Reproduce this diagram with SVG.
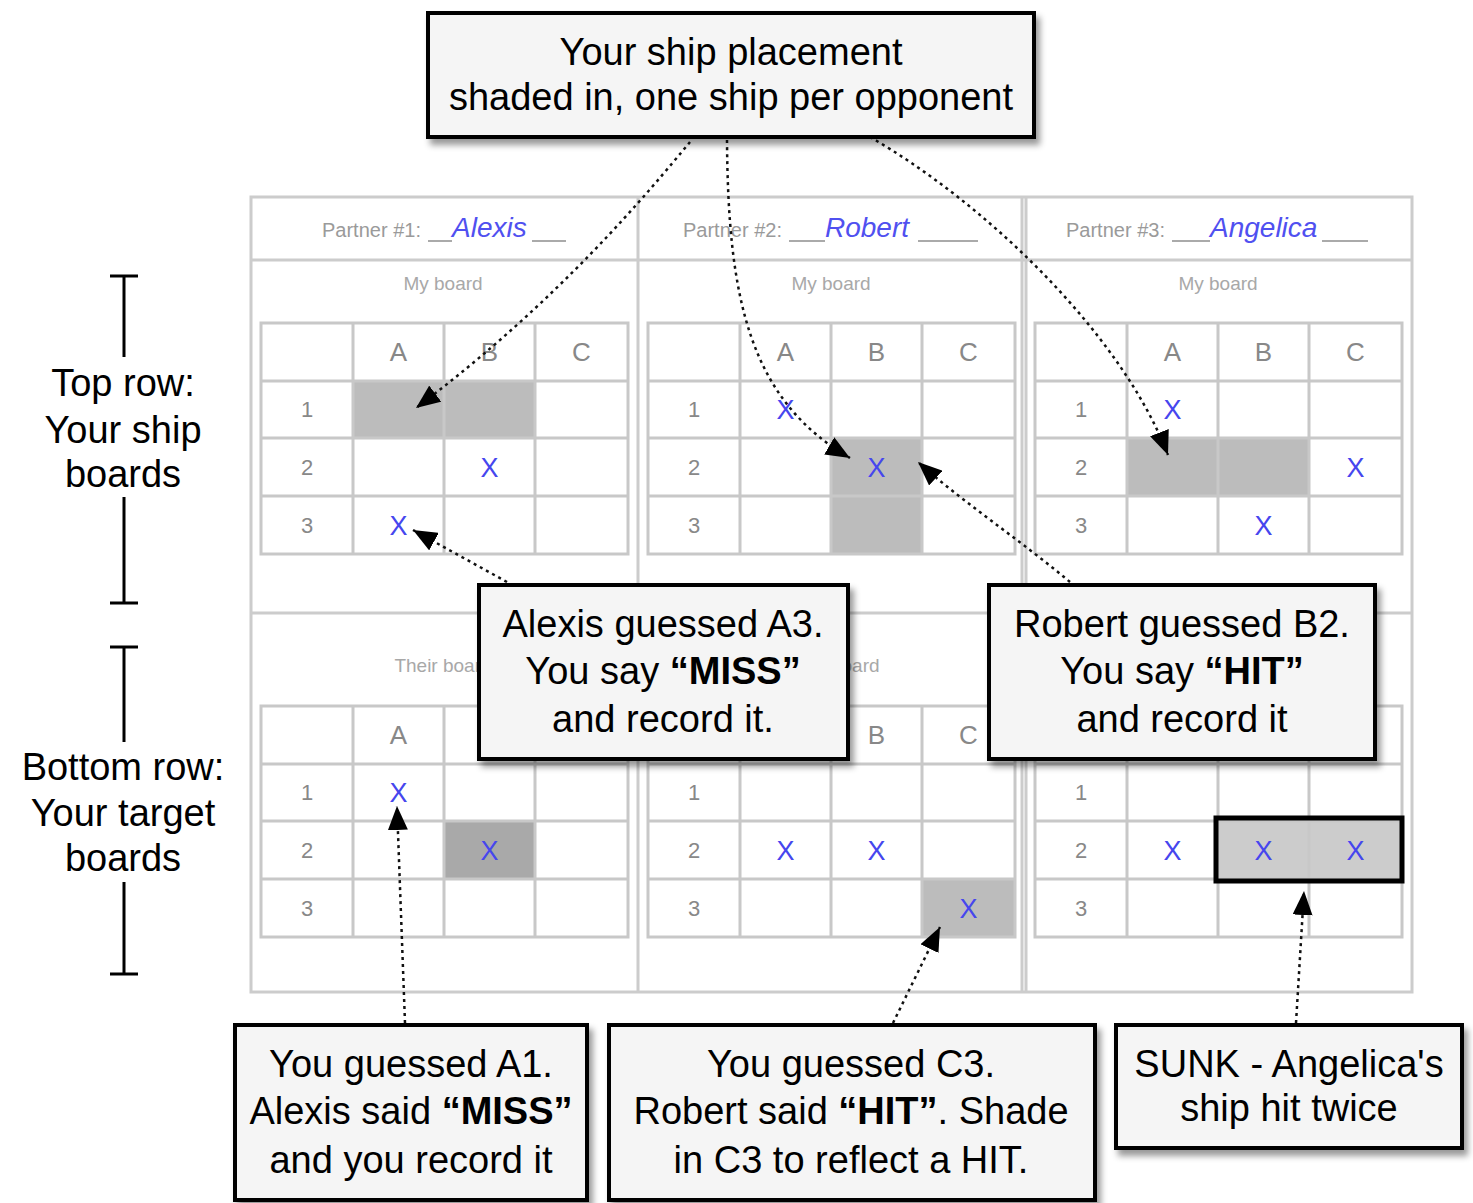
<svg xmlns="http://www.w3.org/2000/svg" xmlns:xlink="http://www.w3.org/1999/xlink" width="1473" height="1203" viewBox="0 0 1473 1203">
<style>
  .frame{fill:none;stroke:#cccccc;stroke-width:3}
  .gl{fill:none;stroke:#c8c8c8;stroke-width:3}
  .hdr{font-family:"Liberation Sans",Arial,sans-serif;font-size:26px;fill:#888;text-anchor:middle}
  .num{font-family:"Liberation Sans",Arial,sans-serif;font-size:22px;fill:#888;text-anchor:middle}
  .x{font-family:"Liberation Sans",Arial,sans-serif;font-size:27px;fill:#4646ee;text-anchor:middle}
  .small{font-family:"Liberation Sans",Arial,sans-serif;font-size:20px;fill:#9a9a9a}
  .sub{font-family:"Liberation Sans",Arial,sans-serif;font-size:19px;fill:#a8a8a8;text-anchor:middle}
  .name{font-family:"Liberation Sans",Arial,sans-serif;font-size:28px;fill:#5050f0;font-style:italic}
  .ul{stroke:#aaa;stroke-width:2}
  .ship{fill:#bcbcbc}
  .box{fill:#f5f5f5;stroke:#000;stroke-width:4;filter:url(#sh)}
  .ct{font-family:"Liberation Sans",Arial,sans-serif;font-size:38px;fill:#000;text-anchor:middle}
  .lab{font-family:"Liberation Sans",Arial,sans-serif;font-size:38px;fill:#000;text-anchor:middle}
  .bar{stroke:#000;stroke-width:3;fill:none}
  .conn{fill:none;stroke:#111;stroke-width:2.5;stroke-dasharray:3 4;marker-end:url(#ah)}
</style>
<defs>
  <filter id="sh" x="-10%" y="-10%" width="130%" height="140%">
    <feDropShadow dx="4" dy="6" stdDeviation="3" flood-color="#000" flood-opacity="0.4"/>
  </filter>
  <marker id="ah" viewBox="0 0 24 20" refX="24" refY="10" markerWidth="24" markerHeight="20" markerUnits="userSpaceOnUse" orient="auto">
    <path d="M0,0 L24,10 L0,20 z" fill="#000"/>
  </marker>
  <g id="grid">
    <rect class="gl" x="0" y="0" width="367" height="231"/>
    <path class="gl" d="M92,0 V231 M183,0 V231 M274,0 V231 M0,58 H367 M0,115 H367 M0,173 H367"/>
    <text class="hdr" x="137.5" y="38">A</text>
    <text class="hdr" x="228.5" y="38">B</text>
    <text class="hdr" x="320.5" y="38">C</text>
    <text class="num" x="46" y="94">1</text>
    <text class="num" x="46" y="152">2</text>
    <text class="num" x="46" y="210">3</text>
  </g>
</defs>
<rect width="1473" height="1203" fill="#fff"/>

<g id="board-frame">
  <rect class="frame" x="251" y="197" width="1161" height="795"/>
  <path class="frame" d="M251,260 H1412 M251,613 H1412 M638,197 V992 M1022,197 V992 M1026,197 V992"/>
</g>

<g id="panel-alexis">
  <text class="small" x="322" y="237">Partner #1:</text>
  <line class="ul" x1="428" y1="241" x2="452" y2="241"/>
  <text class="name" x="452" y="237">Alexis</text>
  <line class="ul" x1="532" y1="241" x2="566" y2="241"/>
  <text class="sub" x="443" y="290">My board</text>
  <rect class="ship" x="353" y="381" width="182" height="57"/>
  <use xlink:href="#grid" x="261" y="323"/>
  <text class="x" x="489.5" y="477">X</text>
  <text class="x" x="398.5" y="535">X</text>
  <text class="sub" x="443" y="672">Their board</text>
  <rect fill="#a9a9a9" x="444" y="822" width="91" height="57"/>
  <use xlink:href="#grid" x="261" y="706"/>
  <text class="x" x="398.5" y="802">X</text>
  <text class="x" x="489.5" y="860">X</text>
</g>

<g id="panel-robert">
  <text class="small" x="683" y="237">Partner #2:</text>
  <line class="ul" x1="789" y1="241" x2="825" y2="241"/>
  <text class="name" x="825" y="237">Robert</text>
  <line class="ul" x1="918" y1="241" x2="978" y2="241"/>
  <text class="sub" x="831" y="290">My board</text>
  <rect class="ship" x="831" y="438" width="92" height="116"/>
  <use xlink:href="#grid" x="648" y="323"/>
  <text class="x" x="785.5" y="419">X</text>
  <text class="x" x="876.5" y="477">X</text>
  <text class="sub" x="831" y="672">Their board</text>
  <rect class="ship" x="923" y="879" width="92" height="57"/>
  <use xlink:href="#grid" x="648" y="706"/>
  <text class="x" x="785.5" y="860">X</text>
  <text class="x" x="876.5" y="860">X</text>
  <text class="x" x="968.5" y="918">X</text>
</g>

<g id="panel-angelica">
  <text class="small" x="1066" y="237">Partner #3:</text>
  <line class="ul" x1="1172" y1="241" x2="1210" y2="241"/>
  <text class="name" x="1210" y="237">Angelica</text>
  <line class="ul" x1="1322" y1="241" x2="1368" y2="241"/>
  <text class="sub" x="1218" y="290">My board</text>
  <rect class="ship" x="1127" y="438" width="182" height="58"/>
  <use xlink:href="#grid" x="1035" y="323"/>
  <text class="x" x="1172.5" y="419">X</text>
  <text class="x" x="1355.5" y="477">X</text>
  <text class="x" x="1263.5" y="535">X</text>
  <rect fill="#cccccc" x="1218" y="822" width="184" height="57"/>
  <use xlink:href="#grid" x="1035" y="706"/>
  <rect fill="none" stroke="#000" stroke-width="5" x="1216" y="818" width="186" height="63"/>
  <text class="x" x="1172.5" y="860">X</text>
  <text class="x" x="1263.5" y="860">X</text>
  <text class="x" x="1355.5" y="860">X</text>
</g>

<g id="label-top-row">
  <path class="bar" d="M110,276 H138 M124,276 V357 M124,497 V603 M110,603 H138"/>
  <text class="lab" x="123" y="396">Top row:</text>
  <text class="lab" x="123" y="443">Your ship</text>
  <text class="lab" x="123" y="487">boards</text>
</g>

<g id="label-bottom-row">
  <path class="bar" d="M110,647 H138 M124,647 V742 M124,882 V974 M110,974 H138"/>
  <text class="lab" x="123" y="780">Bottom row:</text>
  <text class="lab" x="123" y="826">Your target</text>
  <text class="lab" x="123" y="871">boards</text>
</g>

<g id="connectors">
  <path class="conn" d="M690,142 C650,190 560,300 416,408"/>
  <path class="conn" d="M727,140 C728,300 750,400 850,458"/>
  <path class="conn" d="M870,137 C980,200 1120,330 1168,455"/>
  <path class="conn" d="M507,582 L413,530"/>
  <path class="conn" d="M1070,582 C1020,540 960,500 918,462"/>
  <path class="conn" d="M405,1023 L397,806"/>
  <path class="conn" d="M893,1023 L940,927"/>
  <path class="conn" d="M1296,1023 L1304,891"/>
</g>

<g id="callout-placement">
  <rect class="box" x="428" y="13" width="606" height="124"/>
  <text class="ct" x="731" y="65">Your ship placement</text>
  <text class="ct" x="731" y="110">shaded in, one ship per opponent</text>
</g>

<g id="callout-alexis-guess">
  <rect class="box" x="479" y="585" width="369" height="174"/>
  <text class="ct" x="663" y="637">Alexis guessed A3.</text>
  <text class="ct" x="663" y="684">You say <tspan font-weight="bold">“MISS”</tspan></text>
  <text class="ct" x="663" y="732">and record it.</text>
</g>

<g id="callout-robert-guess">
  <rect class="box" x="989" y="585" width="386" height="174"/>
  <text class="ct" x="1182" y="637">Robert guessed B2.</text>
  <text class="ct" x="1182" y="684">You say <tspan font-weight="bold">“HIT”</tspan></text>
  <text class="ct" x="1182" y="732">and record it</text>
</g>

<g id="callout-you-a1">
  <rect class="box" x="235" y="1025" width="352" height="175"/>
  <text class="ct" x="411" y="1077">You guessed A1.</text>
  <text class="ct" x="411" y="1124">Alexis said <tspan font-weight="bold">“MISS”</tspan></text>
  <text class="ct" x="411" y="1173">and you record it</text>
</g>

<g id="callout-you-c3">
  <rect class="box" x="609" y="1025" width="486" height="175"/>
  <text class="ct" x="851" y="1077">You guessed C3.</text>
  <text class="ct" x="851" y="1124">Robert said <tspan font-weight="bold">“HIT”</tspan>. Shade</text>
  <text class="ct" x="851" y="1173">in C3 to reflect a HIT.</text>
</g>

<g id="callout-sunk">
  <rect class="box" x="1116" y="1025" width="346" height="123"/>
  <text class="ct" x="1289" y="1077">SUNK - Angelica's</text>
  <text class="ct" x="1289" y="1121">ship hit twice</text>
</g>
</svg>
